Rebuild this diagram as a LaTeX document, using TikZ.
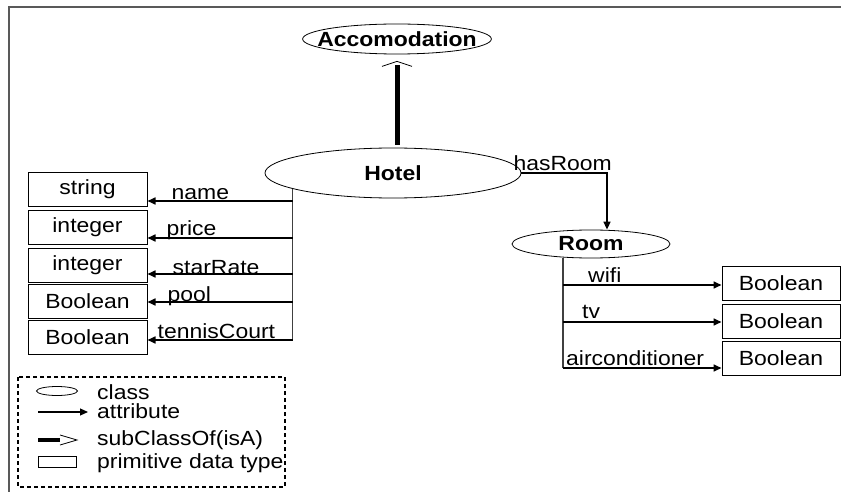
\documentclass[tikz,border=0pt]{standalone}
\usepackage{fontspec}
\setmainfont{Liberation Sans}[FakeStretch=1.12]
\usetikzlibrary{shapes.geometric, arrows.meta, positioning, calc}

\begin{document}
\begin{tikzpicture}[x=1pt, y=-1pt,
		every node/.style={font=\fontsize{20.5}{24}\selectfont},
		cls/.style={draw, ellipse, inner sep=0pt, line width=0.8pt, font=\fontsize{20.5}{24}\selectfont\bfseries},
		dtype/.style={draw, rectangle, inner sep=0pt, line width=1pt, minimum width=119pt, minimum height=34pt},
		attr/.style={line width=1.6pt, -{Triangle[length=8pt, width=7pt]}},
		bus/.style={line width=1.4pt, black!75},
		lbl/.style={anchor=base west, inner sep=0pt},
		isa/.style={line width=5pt},
		isahead/.style={line width=0.8pt}]
		\useasboundingbox (0,0) rectangle (841,492);
		\draw[black!65, line width=2pt] (841,7) -- (9,7) -- (9,492);

		% classes
		\node[cls, inner xsep=-13pt, minimum width=188pt, minimum height=30pt] (ACC) at (397,39) {Accomodation};
		\node[cls, minimum width=256pt, minimum height=50pt] (HOT) at (393,173) {Hotel};
		\node[cls, minimum width=158pt, minimum height=28pt] (ROOM) at (591,244) {Room};

		% primitive data types
		\node[dtype] (STR) at (87.5,189.5) {string};
		\node[dtype] (INT1) at (87.5,227) {integer};
		\node[dtype] (INT2) at (87.5,265) {integer};
		\node[dtype] (BOO1) at (87.5,301.5) {Boolean};
		\node[dtype] (BOO2) at (87.5,337) {Boolean};
		\node[dtype, minimum width=118pt] (BOO3) at (781,283) {Boolean};
		\node[dtype, minimum width=118pt] (BOO4) at (781,321) {Boolean};
		\node[dtype, minimum width=118pt] (BOO5) at (781,358.5) {Boolean};

		% subClassOf
		\draw[isa] ($(ACC.south |- HOT.north)+(0,-3)$) -- ($(ACC.south)+(0,11)$);
		\draw[isahead] ($(ACC.south)+(-15,12)$) -- ($(ACC.south)+(0,7)$) -- ($(ACC.south)+(15,12)$);

		% hotel attributes
		\coordinate (hbus) at (HOT.189);
		\draw[bus] (hbus) -- (hbus |- 0,340);
		\foreach \ty/\tgt/\txt/\dx/\dy in {201/STR/name/24/-1, 238/INT1/price/19/-3, 274/INT2/starRate/25/0, 302/BOO1/pool/20/-1, 340/BOO2/tennisCourt/10/-2} {
			\draw[attr] (hbus |- 0,\ty) -- (\tgt.east |- 0,\ty);
			\node[lbl] (l\txt) at ($(\tgt.east |- 0,\ty)+(\dx,\dy)$) {\txt};
		}

		% hasRoom
		\draw[attr] (HOT.east) -| ($(ROOM.north)+(16,0)$);
		\node[lbl] (lhasRoom) at ($(HOT.east)+(-8,-2)$) {hasRoom};

		% room attributes
		\coordinate (rbus) at (563,0);
		\draw[bus] (ROOM.south -| rbus) -- (rbus |- 0,368);
		\foreach \ty/\tgt/\txt/\dx/\dy in {285/BOO3/wifi/25/-3, 322/BOO4/tv/19/-4, 368/BOO5/airconditioner/3/-3} {
			\draw[attr] (rbus |- 0,\ty) -- (\tgt.west |- 0,\ty);
			\node[lbl] (l\txt) at ($(rbus |- 0,\ty)+(\dx,\dy)$) {\txt};
		}

		% legend
		\draw[line width=1.5pt, dash pattern=on 4pt off 3pt] (18,377) rectangle (285,487);
		\node[draw, ellipse, line width=0.8pt, minimum width=41pt, minimum height=9pt, inner sep=0pt] (LCLS) at (57,391) {};
		\coordinate (lattra) at (38,412);
		\coordinate (lattrb) at (88,412);
		\draw[attr, line width=1.2pt] (lattra) -- (lattrb);
		\coordinate (lisaa) at (38,440);
		\coordinate (lisab) at (60,440);
		\draw[line width=4pt] (lisaa) -- (lisab);
		\draw[isahead] ($(lisab)+(0,-5)$) -- ($(lisab)+(17,0)$) -- ($(lisab)+(0,5)$);
		\node[draw, line width=0.8pt, minimum width=38pt, minimum height=11pt, inner sep=0pt] (LDT) at (57,462) {};
		\node[lbl] (tcls) at (97,399) {class};
		\node[lbl] (tattr) at (97,418) {attribute};
		\node[lbl] (tisa) at (97,445) {subClassOf(isA)};
		\node[lbl] (tdt) at (97,468) {primitive data type};
\end{tikzpicture}
\end{document}
